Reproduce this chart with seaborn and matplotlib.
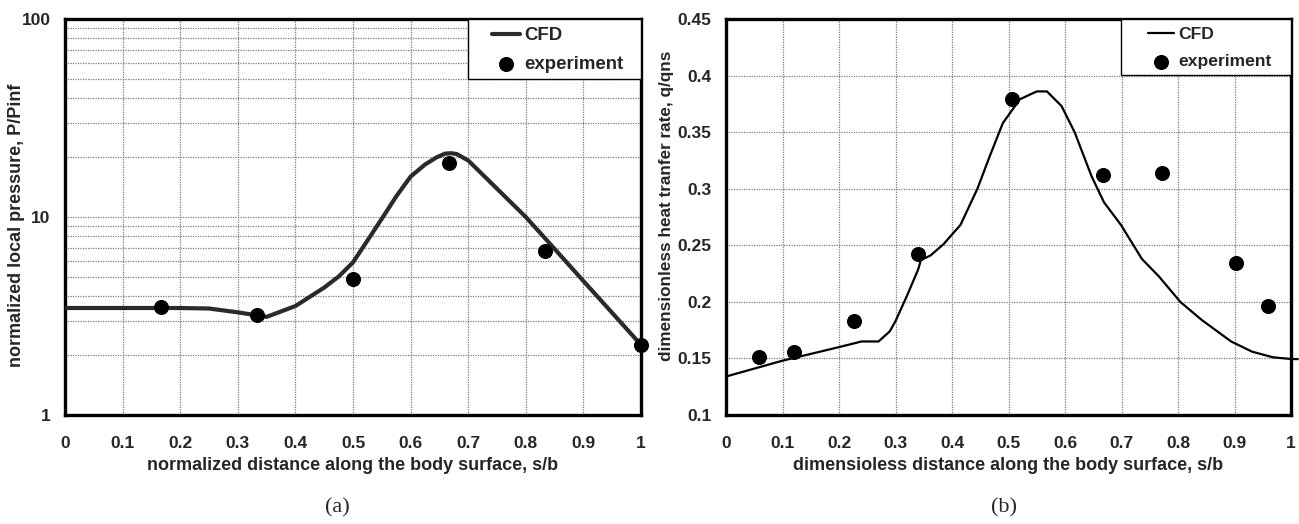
import numpy as np
import pandas as pd
import matplotlib
matplotlib.use("Agg")
import matplotlib.pyplot as plt
from matplotlib.patches import Rectangle
from matplotlib.ticker import FixedLocator, LogLocator, NullFormatter, FixedFormatter
import seaborn as sns

# ---------------- data ----------------
# panel (a): normalized local pressure
cfd_a_x = [0.0, 0.1, 0.2, 0.25, 0.3, 0.35, 0.4, 0.45, 0.475, 0.5, 0.525, 0.55, 0.575,
           0.6, 0.625, 0.645, 0.66, 0.67, 0.68, 0.7, 0.75, 0.8, 0.85, 0.9, 0.95, 1.0]
cfd_a_y = [3.47, 3.47, 3.47, 3.45, 3.3, 3.13, 3.55, 4.4, 5.0, 5.9, 7.6, 9.8, 12.7,
           16.0, 18.4, 20.0, 20.9, 21.0, 20.8, 19.3, 13.9, 10.0, 6.9, 4.75, 3.28, 2.26]
exp_a_x = [0.167, 0.333, 0.5, 0.667, 0.833, 1.0]
exp_a_y = [3.5, 3.2, 4.86, 18.7, 6.7, 2.26]

# panel (b): dimensionless heat transfer rate
cfd_b_x = [0.0, 0.1, 0.2, 0.24, 0.27, 0.29, 0.3, 0.32, 0.34, 0.345, 0.362, 0.385,
           0.415, 0.445, 0.467, 0.49, 0.52, 0.55, 0.568, 0.594, 0.617, 0.647, 0.669,
           0.699, 0.736, 0.766, 0.804, 0.842, 0.894, 0.931, 0.968, 1.0, 1.012]
cfd_b_y = [0.134, 0.148, 0.160, 0.165, 0.165, 0.174, 0.183, 0.205, 0.2285, 0.237,
           0.241, 0.251, 0.268, 0.300, 0.329, 0.358, 0.379, 0.386, 0.386, 0.373,
           0.350, 0.311, 0.288, 0.268, 0.238, 0.2226, 0.200, 0.184, 0.165, 0.156,
           0.151, 0.1495, 0.1494]
exp_b_x = [0.059, 0.120, 0.227, 0.340, 0.506, 0.667, 0.771, 0.903, 0.959]
exp_b_y = [0.151, 0.156, 0.183, 0.242, 0.379, 0.312, 0.314, 0.234, 0.196]

x_ticks = [0, 0.1, 0.2, 0.3, 0.4, 0.5, 0.6, 0.7, 0.8, 0.9, 1]
x_tick_labels = ["0", "0.1", "0.2", "0.3", "0.4", "0.5", "0.6", "0.7", "0.8", "0.9", "1"]
a_y_ticks = [1, 10, 100]
a_y_tick_labels = ["1", "10", "100"]
b_y_ticks = [0.1, 0.15, 0.2, 0.25, 0.3, 0.35, 0.4, 0.45]
b_y_tick_labels = ["0.1", "0.15", "0.2", "0.25", "0.3", "0.35", "0.4", "0.45"]

# ---------------- style ----------------
sns.set_theme(style="white")
plt.rcParams["font.family"] = ["Liberation Sans", "DejaVu Sans"]
plt.rcParams["font.weight"] = "bold"

W, H = 1299, 524
fig = plt.figure(figsize=(W / 100, H / 100), dpi=100)
ax_a = fig.add_axes([65 / W, 1 - 415 / H, 576 / W, 396 / H])
ax_b = fig.add_axes([726 / W, 1 - 415 / H, 565 / W, 396 / H])

grid_kw = dict(color="#7a7a7a", linewidth=0.9, linestyle=(0, (1, 1)))
tick_fs = 12.5
label_fs = 13


def style_axes(ax):
    for s in ax.spines.values():
        s.set_linewidth(2.4)
        s.set_color("black")
    ax.tick_params(axis="both", which="major", direction="out", length=4.3, width=1,
                   color="black", labelsize=tick_fs)
    ax.tick_params(axis="x", which="major", pad=10.5)
    ax.tick_params(axis="y", which="major", pad=6)
    ax.tick_params(axis="both", which="minor", length=0)
    for lab in ax.get_xticklabels() + ax.get_yticklabels():
        lab.set_fontweight("bold")


def make_legend(ax, box_left, box_bottom, anchor_x, anchor_y, fs, spacing):
    ax.add_patch(Rectangle((box_left, box_bottom), 1 - box_left, 1 - box_bottom,
                           transform=ax.transAxes, facecolor="white",
                           edgecolor="black", linewidth=1, zorder=5, clip_on=False))
    leg = ax.legend(loc="upper left", bbox_to_anchor=(anchor_x, anchor_y),
                    fontsize=fs, frameon=False, borderaxespad=0, borderpad=0,
                    handlelength=1.5, handletextpad=0.22, labelspacing=spacing)
    leg.set_zorder(6)
    for t in leg.get_texts():
        t.set_fontweight("bold")
    return leg


# ---- panel (a) ----
df_a = pd.DataFrame({"x": cfd_a_x, "y": cfd_a_y})
dfe_a = pd.DataFrame({"x": exp_a_x, "y": exp_a_y})
ax_a.set_yscale("log")
sns.lineplot(data=df_a, x="x", y="y", ax=ax_a, color="#2a2a2a", linewidth=3,
             label="CFD", zorder=3)
sns.scatterplot(data=dfe_a, x="x", y="y", ax=ax_a, color="black", s=100,
                edgecolor="black", label="experiment", zorder=4, clip_on=False)
ax_a.set_xlim(0, 1)
ax_a.set_ylim(1, 100)
ax_a.xaxis.set_major_locator(FixedLocator(x_ticks))
ax_a.xaxis.set_major_formatter(FixedFormatter(x_tick_labels))
ax_a.yaxis.set_major_locator(FixedLocator(a_y_ticks))
ax_a.yaxis.set_major_formatter(FixedFormatter(a_y_tick_labels))
ax_a.yaxis.set_minor_locator(LogLocator(base=10, subs=np.arange(2, 10)))
ax_a.yaxis.set_minor_formatter(NullFormatter())
ax_a.grid(True, which="both", axis="both", **grid_kw)
ax_a.set_xlabel("normalized distance along the body surface, s/b", fontsize=label_fs,
                fontweight="bold", labelpad=5)
ax_a.set_ylabel("normalized local pressure, P/Pinf", fontsize=label_fs,
                fontweight="bold")
ax_a.yaxis.set_label_coords((25 - 65) / 576, (415 - 225) / 396)
style_axes(ax_a)
make_legend(ax_a, (468 - 65) / 576, (415 - 79) / 396, (492 - 65) / 576,
            (415 - 27) / 396, 13.4, 0.64)

# ---- panel (b) ----
df_b = pd.DataFrame({"x": cfd_b_x, "y": cfd_b_y})
dfe_b = pd.DataFrame({"x": exp_b_x, "y": exp_b_y})
sns.lineplot(data=df_b, x="x", y="y", ax=ax_b, color="black", linewidth=1.6,
             label="CFD", zorder=3, clip_on=False)
sns.scatterplot(data=dfe_b, x="x", y="y", ax=ax_b, color="black", s=100,
                edgecolor="black", label="experiment", zorder=4)
ax_b.set_xlim(0, 1)
ax_b.set_ylim(0.1, 0.45)
ax_b.xaxis.set_major_locator(FixedLocator(x_ticks))
ax_b.xaxis.set_major_formatter(FixedFormatter(x_tick_labels))
ax_b.yaxis.set_major_locator(FixedLocator(b_y_ticks))
ax_b.yaxis.set_major_formatter(FixedFormatter(b_y_tick_labels))
ax_b.grid(True, which="major", axis="both", **grid_kw)
ax_b.set_xlabel("dimensioless distance along the body surface, s/b", fontsize=label_fs,
                fontweight="bold", labelpad=5)
ax_b.set_ylabel("dimensionless heat tranfer rate, q/qns", fontsize=12.3,
                fontweight="bold")
ax_b.yaxis.set_label_coords((674 - 726) / 565, (415 - 206) / 396)
style_axes(ax_b)
make_legend(ax_b, (1121 - 726) / 565, (415 - 75) / 396, (1148 - 726) / 565,
            (415 - 27) / 396, 12.6, 0.68)

# ---- sub-captions ----
fig.text(337 / W, 1 - 508 / H, "(a)", ha="center", va="center", fontsize=16,
         family=["Liberation Serif", "DejaVu Serif"], fontweight="normal")
fig.text(1004 / W, 1 - 508 / H, "(b)", ha="center", va="center", fontsize=16,
         family=["Liberation Serif", "DejaVu Serif"], fontweight="normal")

fig.savefig("out.png", dpi=100, facecolor="white")
